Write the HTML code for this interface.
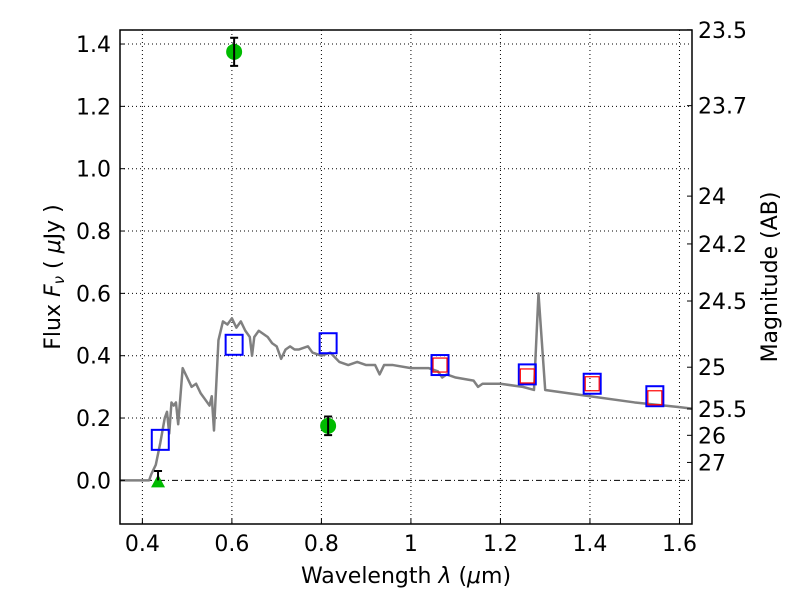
<!DOCTYPE html>
<html><head><meta charset="utf-8"><style>
body{margin:0;background:#fff}
svg text{font-family:"DejaVu Sans","Liberation Sans",sans-serif;font-size:22px;fill:#000}
</style></head><body>
<svg id="chart" width="800" height="600" viewBox="0 0 800 600" xmlns="http://www.w3.org/2000/svg">
<g id="grid"></g>
<g id="marks"></g>
<rect x="120" y="30" width="572" height="494" fill="none" stroke="#000" stroke-width="1.5"/>
<g id="axes"></g>
<text x="406" y="583" text-anchor="middle">Wavelength  <tspan font-style="italic">λ</tspan> (<tspan font-style="italic">μ</tspan>m)</text>
<text transform="translate(60,277) rotate(-90)" text-anchor="middle">Flux  <tspan font-style="italic">F</tspan><tspan font-style="italic" font-size="15" dy="4">ν</tspan><tspan dy="-4">  ( </tspan><tspan font-style="italic">μ</tspan>Jy )</text>
<text transform="translate(777,277) rotate(-90)" text-anchor="middle">Magnitude (AB)</text>
</svg>
<script>
const xTicks=[0.4,0.6,0.8,1.0,1.2,1.4,1.6];
const xTickLabels=["0.4","0.6","0.8","1","1.2","1.4","1.6"];
const yTicks=[0,0.2,0.4,0.6,0.8,1.0,1.2,1.4];
const yTickLabels=["0.0","0.2","0.4","0.6","0.8","1.0","1.2","1.4"];
const magTicks=[23.5,23.7,24,24.2,24.5,25,25.5,26,27];
const magTickLabels=["23.5","23.7","24","24.2","24.5","25","25.5","26","27"];
const specX=[0.35,0.415,0.42,0.43,0.44,0.45,0.455,0.46,0.465,0.47,0.475,0.48,0.49,0.5,0.51,0.52,0.53,0.54,0.55,0.555,0.56,0.57,0.58,0.59,0.6,0.61,0.62,0.63,0.64,0.645,0.65,0.66,0.67,0.68,0.69,0.7,0.71,0.72,0.73,0.74,0.75,0.77,0.78,0.8,0.82,0.84,0.86,0.88,0.9,0.92,0.93,0.94,0.96,1.0,1.04,1.06,1.07,1.08,1.1,1.14,1.15,1.16,1.2,1.25,1.275,1.285,1.3,1.35,1.4,1.5,1.6,1.63];
const specY=[0,0,0.02,0.05,0.12,0.2,0.22,0.15,0.25,0.24,0.25,0.18,0.36,0.33,0.3,0.31,0.28,0.26,0.24,0.27,0.16,0.45,0.51,0.5,0.52,0.49,0.51,0.48,0.46,0.4,0.46,0.48,0.47,0.46,0.44,0.43,0.39,0.42,0.43,0.42,0.42,0.43,0.41,0.4,0.41,0.38,0.37,0.38,0.37,0.37,0.34,0.37,0.37,0.36,0.36,0.35,0.33,0.34,0.33,0.32,0.3,0.31,0.31,0.3,0.29,0.6,0.29,0.28,0.27,0.25,0.235,0.23];
const modelX=[0.44,0.605,0.815,1.065,1.26,1.405,1.545];
const modelY=[0.13,0.435,0.44,0.37,0.34,0.31,0.27];
const fitX=[1.065,1.26,1.405,1.545];
const fitY=[0.37,0.335,0.31,0.265];
const detX=[0.605,0.815];
const detY=[1.375,0.175];
const detErr=[0.045,0.03];
const limX=[0.435];
const limY=[0];
const limErr=[0.03];

const X0=120,X1=692,Y0=30,Y1=524,xmin=0.35,xmax=1.628,ymin=-0.14,ymax=1.445;
const sx=v=>X0+(v-xmin)/(xmax-xmin)*(X1-X0);
const sy=v=>Y1-(v-ymin)/(ymax-ymin)*(Y1-Y0);
const NS="http://www.w3.org/2000/svg";
function mk(parent,tag,attrs){const e=document.createElementNS(NS,tag);for(const k in attrs)e.setAttribute(k,attrs[k]);document.getElementById(parent).appendChild(e);return e;}
xTicks.forEach((t,i)=>{
  const g=mk('grid','line',{x1:sx(t),x2:sx(t),y1:Y0,y2:Y1,stroke:'#000','stroke-width':1,'stroke-dasharray':'1,3'});
  
  
  const tk=mk('axes','line',{x1:sx(t),x2:sx(t),y1:Y1,y2:Y1-5,stroke:'#000'});
  
  
  const tx=mk('axes','text',{x:sx(t),y:Y1+27,'text-anchor':'middle'});tx.textContent=xTickLabels[i];
  
  
});
yTicks.forEach((t,i)=>{
  const g=mk('grid','line',{x1:X0,x2:X1,y1:sy(t),y2:sy(t),stroke:'#000','stroke-width':1,'stroke-dasharray':t===0?'6,3,1,3':'1,3'});
  
  
  const tk=mk('axes','line',{x1:X0,x2:X0+5,y1:sy(t),y2:sy(t),stroke:'#000'});
  
  
  const tx=mk('axes','text',{x:X0-9,y:sy(t)+8,'text-anchor':'end'});tx.textContent=yTickLabels[i];
  
  
});
magTicks.forEach((m,i)=>{
  const f=Math.pow(10,(23.9-m)/2.5);
  const tk=mk('axes','line',{x1:X1,x2:X1-5,y1:sy(f),y2:sy(f),stroke:'#000'});
  
  
  const tx=mk('axes','text',{x:X1+6,y:sy(f)+8,'text-anchor':'start'});tx.textContent=magTickLabels[i];
  
  
});
const cp=mk('marks','clipPath',{id:'clip'});mk('clip','rect',{x:X0,y:Y0,width:X1-X0,height:Y1-Y0});
const spec=mk('marks','polyline',{points:specX.map((x,i)=>sx(x)+','+sy(specY[i])).join(' '),fill:'none',stroke:'#808080','stroke-width':2.5,'clip-path':'url(#clip)','stroke-linejoin':'round'});


modelX.forEach((x,i)=>{
  const r=mk('marks','rect',{x:sx(x)-8.5,y:sy(modelY[i])-10,width:17,height:20,fill:'none',stroke:'#0000ff','stroke-width':2});
  
  
});
fitX.forEach((x,i)=>{
  const r=mk('marks','rect',{x:sx(x)-7,y:sy(fitY[i])-7,width:14,height:14,fill:'none',stroke:'#ff0000','stroke-width':1.2});
  
  
});
limX.forEach((x,i)=>{
  const t=mk('marks','polygon',{points:`${sx(x)-7},${sy(limY[i])+7} ${sx(x)+7},${sy(limY[i])+7} ${sx(x)},${sy(limY[i])-6}`,fill:'#00bb00'});
  
  
  const e=mk('marks','path',{d:`M${sx(x)},${sy(limY[i])} V${sy(limY[i]+limErr[i])} M${sx(x)-4},${sy(limY[i]+limErr[i])} h8`,stroke:'#000','stroke-width':2,fill:'none'});
  
  
});
detX.forEach((x,i)=>{
  const c=mk('marks','circle',{cx:sx(x),cy:sy(detY[i]),r:8,fill:'#00bb00'});
  
  
  const a=sy(detY[i]+detErr[i]),b=sy(detY[i]-detErr[i]);
  const e=mk('marks','path',{d:`M${sx(x)},${a} V${b} M${sx(x)-4},${a} h8 M${sx(x)-4},${b} h8`,stroke:'#000','stroke-width':2,fill:'none'});
  
  
});
</script>
</body></html>
